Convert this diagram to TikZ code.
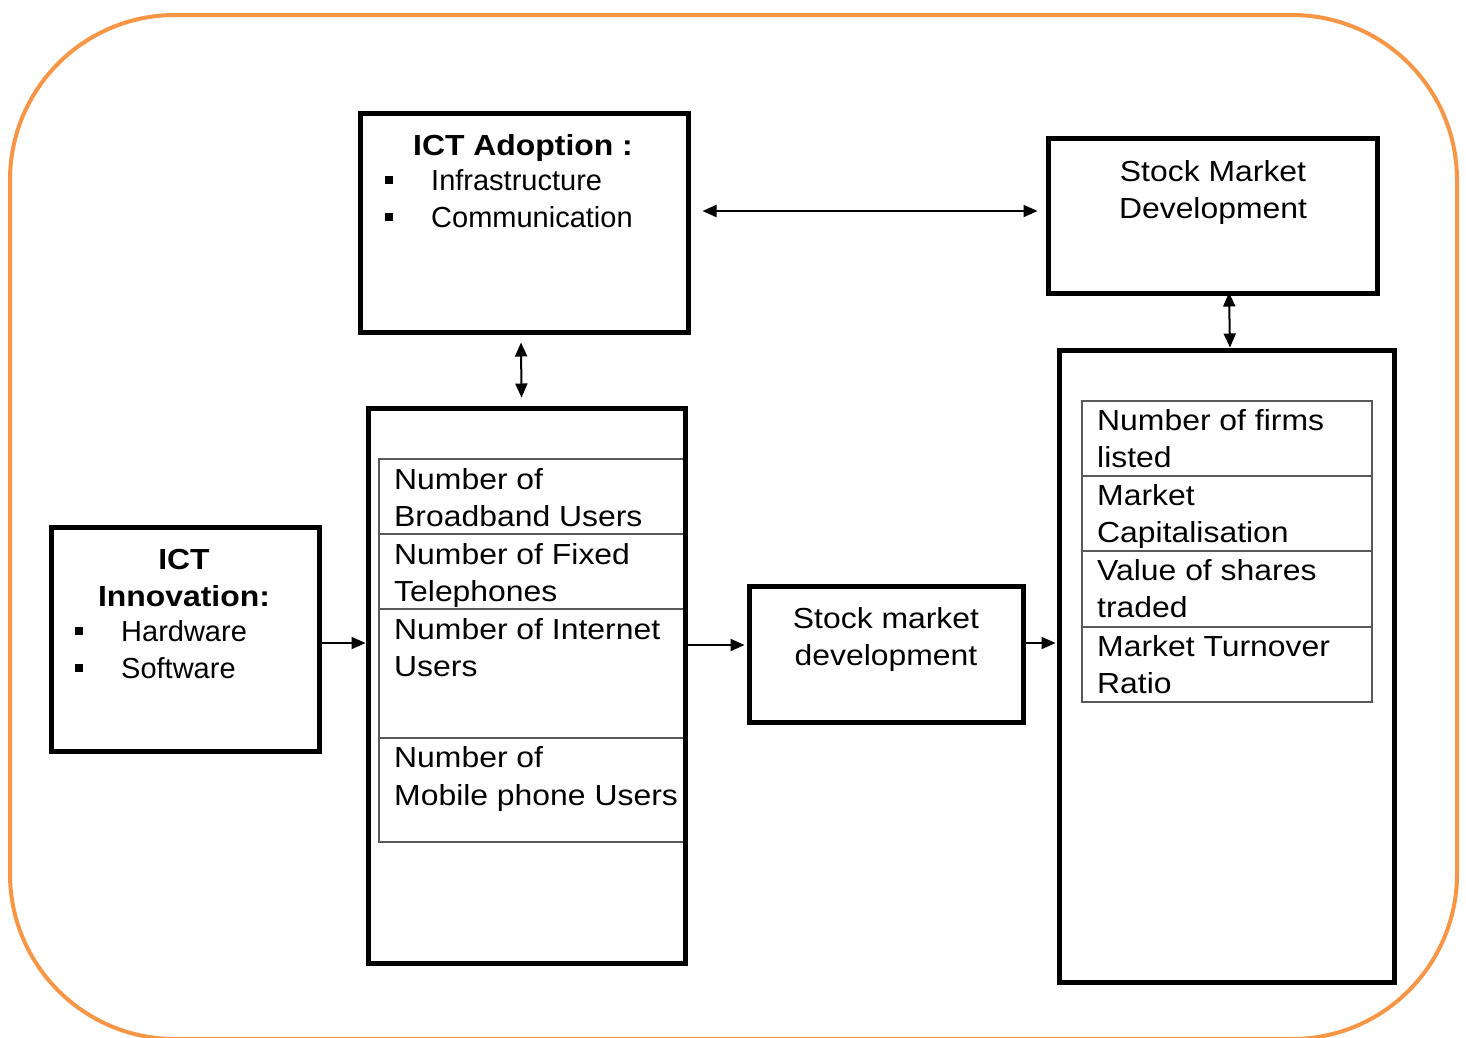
\documentclass[tikz,border=0pt]{standalone}
\usepackage{fontspec}
\setmainfont[FakeStretch=1.1]{Liberation Sans}
\newfontfamily\plainsans{Liberation Sans}
\usetikzlibrary{arrows.meta}
\definecolor{frameorange}{HTML}{F79646}
\definecolor{cellgray}{HTML}{595959}
\tikzset{
  bigbox/.style={draw=black, line width=5pt, inner sep=0pt, fill=none},
  cellbox/.style={draw=cellgray, line width=1.6pt, inner sep=0pt, anchor=north west},
  txt/.style={inner sep=0pt, anchor=base west, font=\fontsize{29}{37.5}\selectfont},
  itxt/.style={inner sep=0pt, anchor=base west, font=\plainsans\fontsize{29}{37.5}\selectfont},
  ctxt/.style={inner sep=0pt, anchor=base, font=\fontsize{29}{37.5}\selectfont},
  btxt/.style={inner sep=0pt, anchor=base, font=\fontsize{29}{37.5}\selectfont\bfseries},
  bulletsq/.style={fill=black, inner sep=0pt, minimum size=7.5pt},
  conn/.style={line width=2pt, -{Triangle[length=14pt,width=12pt]}},
  dconn/.style={line width=2pt, {Triangle[length=14pt,width=12pt]}-{Triangle[length=14pt,width=12pt]}},
}
\begin{document}
\begin{tikzpicture}[x=1pt,y=-1pt]
\useasboundingbox (0,0) rectangle (1466,1037);
% frame
\draw[frameorange, line width=4pt, rounded corners=165pt] (10,15) rectangle (1457,1039);

% main boxes
\node[bigbox, minimum width=328pt, minimum height=219pt] (adopt) at (524,222.5) {};
\node[bigbox, minimum width=329pt, minimum height=155pt] (smd) at (1212.5,215.5) {};
\node[bigbox, minimum width=268pt, minimum height=224pt] (innov) at (185,639) {};
\node[bigbox, minimum width=274pt, minimum height=136pt] (smdev) at (886,654) {};

% left table cells
\node[cellbox, minimum width=305pt, minimum height=75pt] (l1) at (378,458) {};
\node[cellbox, minimum width=305pt, minimum height=75pt] (l2) at (378,533) {};
\node[cellbox, minimum width=305pt, minimum height=129pt] (l3) at (378,608) {};
\node[cellbox, minimum width=305pt, minimum height=104pt] (l4) at (378,737) {};
% right table cells
\node[cellbox, minimum width=290pt, minimum height=75pt] (r1) at (1081,400) {};
\node[cellbox, minimum width=290pt, minimum height=75pt] (r2) at (1081,475) {};
\node[cellbox, minimum width=290pt, minimum height=76pt] (r3) at (1081,550) {};
\node[cellbox, minimum width=290pt, minimum height=75pt] (r4) at (1081,626) {};

\node[bigbox, minimum width=317pt, minimum height=555pt] (mid) at (526.5,685.5) {};
\node[bigbox, minimum width=335pt, minimum height=632pt] (right) at (1226.5,666) {};

% ICT Adoption text
\node[btxt] (adoptT) at (523,155) {ICT Adoption :};
\node[bulletsq] (ab1) at (389,180) {};
\node[bulletsq] (ab2) at (389,217) {};
\node[itxt] (adopt1) at (431,190) {Infrastructure};
\node[itxt] (adopt2) at (431,227) {Communication};

% Stock Market Development (top)
\node[ctxt] (smd1) at (1213,181) {Stock Market};
\node[ctxt] (smd2) at (1213,218) {Development};

% ICT Innovation
\node[btxt] (inn1) at (184,569) {ICT};
\node[btxt] (inn2) at (184,606) {Innovation:};
\node[bulletsq] (ib1) at (79,631) {};
\node[bulletsq] (ib2) at (79,668) {};
\node[itxt] (inn3) at (121,641) {Hardware};
\node[itxt] (inn4) at (121,678) {Software};

% Stock market development (middle)
\node[ctxt] (sd1) at (886,628) {Stock market};
\node[ctxt] (sd2) at (886,665) {development};

% left table text
\node[txt] (lt1a) at ([shift={(16,31)}]l1.north west) {Number of};
\node[txt] (lt1b) at ([shift={(16,68)}]l1.north west) {Broadband Users};
\node[txt] (lt2a) at ([shift={(16,31)}]l2.north west) {Number of Fixed};
\node[txt] (lt2b) at ([shift={(16,68)}]l2.north west) {Telephones};
\node[txt] (lt3a) at ([shift={(16,31)}]l3.north west) {Number of Internet};
\node[txt] (lt3b) at ([shift={(16,68)}]l3.north west) {Users};
\node[txt] (lt4a) at ([shift={(16,30)}]l4.north west) {Number of};
\node[txt] (lt4b) at ([shift={(16,68)}]l4.north west) {Mobile phone Users};

% right table text
\node[txt] (rt1a) at ([shift={(16,30)}]r1.north west) {Number of firms};
\node[txt] (rt1b) at ([shift={(16,67)}]r1.north west) {listed};
\node[txt] (rt2a) at ([shift={(16,30)}]r2.north west) {Market};
\node[txt] (rt2b) at ([shift={(16,67)}]r2.north west) {Capitalisation};
\node[txt] (rt3a) at ([shift={(16,30)}]r3.north west) {Value of shares};
\node[txt] (rt3b) at ([shift={(16,67)}]r3.north west) {traded};
\node[txt] (rt4a) at ([shift={(16,30)}]r4.north west) {Market Turnover};
\node[txt] (rt4b) at ([shift={(16,67)}]r4.north west) {Ratio};

% connectors
\draw[dconn] ([xshift=12pt,yshift=11.5pt]adopt.east) -- ([xshift=-8pt,yshift=4.5pt]smd.west);
\draw[dconn] ([xshift=-3pt,yshift=-8pt]adopt.south) -- ([xshift=-5pt,yshift=8pt]mid.north);
\draw[dconn] ([xshift=16.5pt,yshift=3pt]smd.south) -- ([xshift=3.5pt]right.north);
\draw[conn] ([yshift=-4pt]innov.east) -- ([yshift=-4pt]innov.east -| mid.west);
\draw[conn] ([yshift=9pt]smdev.west -| mid.east) -- ([xshift=-2pt,yshift=9pt]smdev.west);
\draw[conn] ([yshift=11pt]smdev.east) -- ([xshift=-1pt,yshift=11pt]smdev.east -| right.west);
\end{tikzpicture}
\end{document}
